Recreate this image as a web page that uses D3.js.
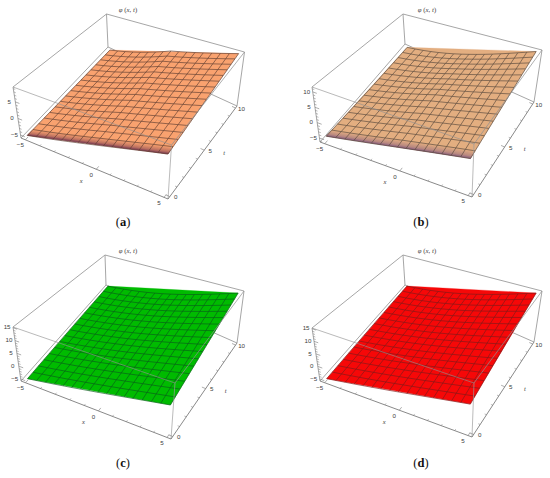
<!DOCTYPE html>
<html><head><meta charset="utf-8">
<script src="https://cdn.jsdelivr.net/npm/d3@7"></script>
<style>html,body{margin:0;padding:0;background:#fff}svg{display:block}</style>
</head><body><div id="c"></div>
<script>
// ---- data ----
const xKnots = [-5, 0, 5];
const tKnots = [0, 5, 10];
const phiA = [[-5.3, 0.2, 5.65], [-5.45, 1.9, 7.5], [-5.6, 3.6, 9.2]];
const phiB = [[-4.7, 0.3, 5.2], [-5.4, 2.3, 8.2], [-6.0, 2.7, 11.3]];
const phiC = [[-5.2, 0.1, 5.4], [-4.6, 2.6, 10.0], [-4.0, 5.3, 14.7]];
const phiD = [[-5.2, 0.1, 5.4], [-4.6, 2.6, 10.0], [-4.0, 5.3, 14.7]];
const meshX = [-5, -4.375, -3.75, -3.125, -2.5, -1.875, -1.25, -0.625, 0, 0.625, 1.25, 1.875, 2.5, 3.125, 3.75, 4.375, 5];
const meshT = [0, 0.625, 1.25, 1.875, 2.5, 3.125, 3.75, 4.375, 5, 5.625, 6.25, 6.875, 7.5, 8.125, 8.75, 9.375, 10];
const xTicks = [-5, 0, 5];
const tTicks = [0, 5, 10];
const xMinor = [-4, -3, -2, -1, 1, 2, 3, 4];
const tMinor = [1, 2, 3, 4, 6, 7, 8, 9];
const zTicksA = [-5, 0, 5];
const zTicksB = [-5, 0, 5, 10];
const zTicksC = [-5, 0, 5, 10, 15];
const captions = ["a", "b", "c", "d"];

// ---- layout: box corners on the page and styles ----
const panels = [
 {name:"a", phi:phiA, zt:zTicksA, zDom:[-5.9,9.5], fill:"#f9a26f", dark:"#6e3350", mesh:"#5a3a30",
  bot:[[21,138],[168,199],[237,106],[108,47]], top:[[13,87],[171.5,145],[244.5,52],[106.5,14]],
  title:[128,12], cap:[123,226]},
 {name:"b", phi:phiB, zt:zTicksB, zDom:[-6.3,11.6], fill:"#e3ae80", dark:"#80587f", mesh:"#54453a",
  bot:[[320,142],[472,197],[534,102],[405,44]], top:[[312,87],[474,144],[542,50],[403,14]],
  title:[427,12], cap:[421,226]},
 {name:"c", phi:phiC, zt:zTicksC, zDom:[-5.8,15.3], fill:"#00bb00", dark:null, mesh:"#0a5a1a",
  bot:[[21,381],[171,439],[237,343],[106,285]], top:[[13,327],[175,383],[244,291],[105,255]],
  title:[128,253], cap:[123,467]},
 {name:"d", phi:phiD, zt:zTicksC, zDom:[-5.8,15.3], fill:"#f60808", dark:null, mesh:"#7a1a1a",
  bot:[[320,381],[472,437],[534,342],[405,285]], top:[[312,328],[474,383],[542,291],[403,255]],
  title:[427,253], cap:[421,467]}
];

function homography(q){ // unit square -> quad (p00,p10,p11,p01)
  const [[x0,y0],[x1,y1],[x2,y2],[x3,y3]] = q;
  const dx1=x1-x2, dx2=x3-x2, sx=x0-x1+x2-x3, dy1=y1-y2, dy2=y3-y2, sy=y0-y1+y2-y3;
  const d=dx1*dy2-dx2*dy1, g=(sx*dy2-dx2*sy)/d, h=(dx1*sy-sx*dy1)/d;
  const a=x1-x0+g*x1, b=x3-x0+h*x3, c=x0, e=y1-y0+g*y1, f=y3-y0+h*y3, i=y0;
  return (u,v)=>{const w=g*u+h*v+1; return [(a*u+b*v+c)/w,(e*u+f*v+i)/w];};
}

const svg = d3.select("#c").append("svg").attr("width",550).attr("height",478).attr("viewBox","0 0 550 478");
const BOX="#8f8f8f", TICK="#777", LAB="#3c3c3c", SANS="'Liberation Sans',Arial,sans-serif";

const xS = d3.scaleLinear().domain([-5.3,5.3]).range([0,1]);
const tS = d3.scaleLinear().domain([-0.25,10.25]).range([0,1]);
const line = d3.line();

panels.forEach(p=>{
  const g = svg.append("g");
  const hb = homography(p.bot), ht = homography(p.top);
  const zS = d3.scaleLinear().domain(p.zDom).range([0,1]);
  const P = (x,t,z)=>{const u=xS(x),v=tS(t),f=zS(z),b=hb(u,v),a=ht(u,v);return [b[0]+(a[0]-b[0])*f,b[1]+(a[1]-b[1])*f];};
  const [x0,x1]=xS.domain(),[t0,t1]=tS.domain(),[z0,z1]=zS.domain();
  const rows = p.phi.map(r=>d3.scaleLinear().domain(xKnots).range(r));
  const phi = (x,t)=>d3.scaleLinear().domain(tKnots).range(rows.map(r=>r(x)))(t);
  const S = (x,t)=>P(x,t,phi(x,t));
  const seg=(a,b,c=BOX,w=0.8,o=1)=>g.append("path").attr("d",line([a,b])).attr("fill","none").attr("stroke",c).attr("stroke-width",w).attr("stroke-opacity",o);

  // back edges of the box
  seg(P(x0,t1,z0),P(x1,t1,z0));
  seg(P(x0,t1,z0),P(x0,t1,z1));
  seg(P(x1,t1,z0),P(x1,t1,z1));
  seg(P(x0,t1,z0),P(x0,t0,z0));
  seg(P(x0,t1,z1),P(x1,t1,z1),"#9c9c9c",0.9);
  seg(P(x0,t1,z1),P(x0,t0,z1),"#9c9c9c",0.9);

  // surface cells
  const cell = (xa,xb,ta,tb,fill)=>g.append("path").attr("d",line([S(xa,ta),S(xb,ta),S(xb,tb),S(xa,tb)])+"Z").attr("fill",fill).attr("stroke",fill).attr("stroke-width",0.3);
  cell(-5,5,0,10,p.fill);
  if(p.dark){
    const shade = d3.scaleLinear().domain([0,0.2,0.62]).range([p.dark,d3.interpolateRgb(p.dark,p.fill)(0.55),p.fill]);
    const steps = d3.range(0,0.62,0.04);
    steps.forEach(s=>cell(-5,5,s,s+0.05,shade(s)));
  }
  // mesh
  meshX.forEach(x=>g.append("path").attr("d",line(meshT.map(t=>S(x,t)))).attr("fill","none").attr("stroke",p.mesh).attr("stroke-width",0.75).attr("stroke-opacity",0.85));
  meshT.forEach(t=>g.append("path").attr("d",line(meshX.map(x=>S(x,t)))).attr("fill","none").attr("stroke",p.mesh).attr("stroke-width",0.75).attr("stroke-opacity",0.85));

  // front edges of the box
  seg(P(x0,t0,z0),P(x0,t0,z1));
  seg(P(x1,t0,z0),P(x1,t0,z1),"#9a9a9a",0.8,0.85);
  seg(P(x0,t0,z1),P(x1,t0,z1),"#8f8f8f",0.9,0.7);
  seg(P(x1,t0,z1),P(x1,t1,z1),"#8f8f8f",0.9,0.8);
  seg(P(x0,t0,z0),P(x1,t0,z0),"#7c7c7c",0.9);
  seg(P(x1,t0,z0),P(x1,t1,z0),"#7c7c7c",0.9);

  // ticks
  xTicks.forEach(x=>seg(P(x,t0,z0),P(x,t0+0.3,z0),TICK,0.6));
  xMinor.forEach(x=>seg(P(x,t0,z0),P(x,t0+0.15,z0),TICK,0.5));
  tTicks.forEach(t=>seg(P(x1,t,z0),P(x1-0.3,t,z0),TICK,0.6));
  tMinor.forEach(t=>seg(P(x1,t,z0),P(x1-0.15,t,z0),TICK,0.5));
  d3.range(Math.ceil(z0),Math.floor(z1)+1).forEach(z=>{
    const major=p.zt.includes(z);
    seg(P(x0,t0,z),P(x0+(major?0.3:0.15),t0,z),TICK,major?0.6:0.5);
  });

  const label=(pt,dx,dy,s)=>g.append("text").attr("x",pt[0]+dx).attr("y",pt[1]+dy).attr("text-anchor","middle").attr("dominant-baseline","middle").attr("font-family",SANS).attr("font-size",6.2).attr("fill",LAB).text(s);
  xTicks.forEach(x=>label(P(x,t0,z0),-5,6,String(x).replace("-","\u2212")));
  tTicks.forEach(t=>label(P(x1,t,z0),6,1,String(t)));
  p.zt.forEach(z=>label(P(x0,t0,z),-6,0,String(z).replace("-","\u2212")));
  const il=(pt,s)=>g.append("text").attr("x",pt[0]).attr("y",pt[1]).attr("text-anchor","middle").attr("dominant-baseline","middle").attr("font-family","'Liberation Serif',serif").attr("font-style","italic").attr("font-size",6.5).attr("fill",LAB).text(s);
  const xl=P(0,t0,z0), tl=P(x1,5,z0);
  il([xl[0]-15,xl[1]+12],"x");
  il([tl[0]+20,tl[1]+3],"t");
  // title
  const tt=g.append("text").attr("x",p.title[0]).attr("y",p.title[1]).attr("text-anchor","middle").attr("font-family","'Liberation Serif',serif").attr("font-size",6.8).attr("fill",LAB);
  tt.append("tspan").attr("font-style","italic").text("\u03c6");
  tt.append("tspan").text(" (");
  tt.append("tspan").attr("font-style","italic").text("x");
  tt.append("tspan").text(", ");
  tt.append("tspan").attr("font-style","italic").text("t");
  tt.append("tspan").text(")");
  // caption
  const c=g.append("text").attr("x",p.cap[0]).attr("y",p.cap[1]).attr("text-anchor","middle").attr("font-family","'Liberation Serif',serif").attr("font-size",12.5).attr("fill","#111");
  c.append("tspan").text("(");
  c.append("tspan").attr("font-weight","bold").text(p.name);
  c.append("tspan").text(")");
});
</script></body></html>
